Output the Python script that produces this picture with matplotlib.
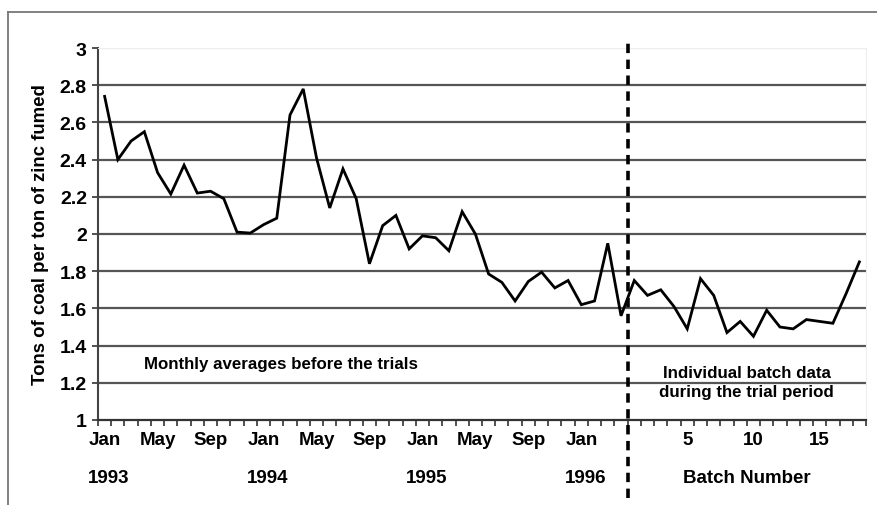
import matplotlib
matplotlib.use("Agg")
import matplotlib.pyplot as plt
from matplotlib.lines import Line2D
import numpy as np

# ---- data ----
monthly_values = [2.74, 2.40, 2.50, 2.55, 2.33, 2.215, 2.37, 2.22, 2.23, 2.19,
                  2.01, 2.005, 2.05, 2.085, 2.64, 2.78, 2.41, 2.14, 2.35, 2.19,
                  1.84, 2.045, 2.10, 1.92, 1.99, 1.98, 1.91, 2.12, 2.00, 1.785,
                  1.74, 1.64, 1.745, 1.795, 1.71, 1.75, 1.62, 1.64, 1.95, 1.56]
batch_values = [1.75, 1.67, 1.70, 1.61, 1.49, 1.76, 1.67, 1.47, 1.53, 1.45,
                1.59, 1.50, 1.49, 1.54, 1.53, 1.52, 1.68, 1.85]
month_tick_labels = ["Jan", "May", "Sep"] * 3 + ["Jan"]
year_labels = ["1993", "1994", "1995", "1996"]
batch_tick_labels = ["5", "10", "15"]
y_ticks = [1, 1.2, 1.4, 1.6, 1.8, 2, 2.2, 2.4, 2.6, 2.8, 3]

FONT = "Liberation Sans"
plt.rcParams['font.family'] = [FONT, 'DejaVu Sans']
plt.rcParams['font.weight'] = 'bold'

n_m = len(monthly_values)
n_b = len(batch_values)
values = monthly_values + batch_values
x_all = np.arange(n_m + n_b)

fig = plt.figure(figsize=(8.77, 5.06), dpi=100)
ax = fig.add_axes([98 / 877, 1 - 421 / 506, 768 / 877, 372 / 506])

# gridlines
for yv in y_ticks[1:-1]:
    ax.axhline(yv, color="#555555", lw=1.6, zorder=1)
ax.axhline(3, color="#e6e6e6", lw=1.0, zorder=1)

ax.plot(x_all, values, color="black", lw=2.0, zorder=3, solid_joinstyle="miter")

ax.set_xlim(-0.5, n_m + n_b - 0.5)
ax.set_ylim(1, 3)

ax.set_yticks(y_ticks)
ax.set_yticklabels([("%g" % v) for v in y_ticks], fontsize=14, fontweight="bold")

month_pos = list(range(0, 37, 4))
batch_pos = [n_m + int(b) - 1 for b in batch_tick_labels]
ax.set_xticks(month_pos + batch_pos)
ax.set_xticklabels(month_tick_labels + batch_tick_labels, fontsize=13.5, fontweight="bold")
ax.tick_params(axis="x", which="major", length=0, pad=8)
ax.set_xticks(np.arange(-0.5, n_m + n_b, 1), minor=True)
ax.tick_params(axis="x", which="minor", length=4, width=1.2, direction="out", color="#333333")
ax.tick_params(axis="y", length=4, width=1.2, color="#333333", pad=4)

for s in ["top", "right"]:
    ax.spines[s].set_color("#eeeeee")
    ax.spines[s].set_linewidth(0.8)
ax.spines["left"].set_color("#444444")
ax.spines["left"].set_linewidth(1.5)
ax.spines["bottom"].set_color("#333333")
ax.spines["bottom"].set_linewidth(1.6)

ax.set_ylabel("Tons of coal per ton of zinc fumed", fontsize=13.4, fontweight="bold", labelpad=8)

# year labels row
for i, yl in enumerate(year_labels):
    ax.text(i * 12 + 0.3, -0.155, yl, transform=ax.get_xaxis_transform(),
            ha="center", va="center", fontsize=13.5, fontweight="bold")
ax.text(n_m + (n_b - 1) / 2, -0.155, "Batch Number", transform=ax.get_xaxis_transform(),
        ha="center", va="center", fontsize=13.5, fontweight="bold")

# dashed separator
ax.axvline(n_m - 0.5, ymin=-0.21, ymax=1.02, color="black", lw=2.6,
           linestyle=(0, (2.6, 1.8)), clip_on=False, zorder=4)

# annotations
ax.text(13.3, 1.305, "Monthly averages before the trials", ha="center", va="center",
        fontsize=12.2, fontweight="bold")
ax.text(48.5, 1.258, "Individual batch data", ha="center", va="center",
        fontsize=12.2, fontweight="bold")
ax.text(48.5, 1.151, "during the trial period", ha="center", va="center",
        fontsize=12.2, fontweight="bold")

# outer frame (partially visible)
fig.add_artist(Line2D([8 / 877, 8 / 877], [0, 1 - 13 / 506], transform=fig.transFigure,
                      color="#777777", lw=1.3))
fig.add_artist(Line2D([8 / 877, 1], [1 - 13 / 506, 1 - 13 / 506], transform=fig.transFigure,
                      color="#777777", lw=1.3))

fig.savefig("out.png", dpi=100)
